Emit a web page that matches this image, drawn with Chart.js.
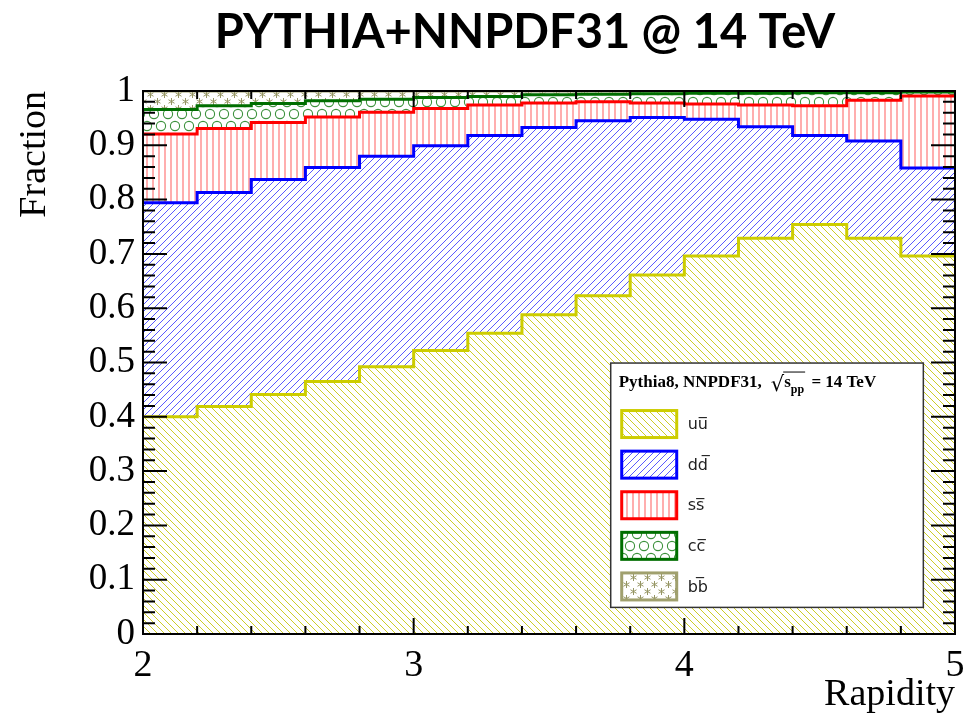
<!DOCTYPE html>
<html><head><meta charset="utf-8">
<script src="https://cdn.jsdelivr.net/npm/chart.js@4/dist/chart.umd.min.js"></script>
<style>html,body{margin:0;padding:0;background:#fff;}#wrap{width:969px;height:716px;position:relative;}</style>
</head><body><div id="wrap"><canvas id="c" width="969" height="716"></canvas></div>
<script>
// ---------------- data ----------------
const chartTitle = 'PYTHIA+NNPDF31 @ 14 TeV';
const xAxisTitle = 'Rapidity';
const yAxisTitle = 'Fraction';
const binEdges = [2.0,2.2,2.4,2.6,2.8,3.0,3.2,3.4,3.6,3.8,4.0,4.2,4.4,4.6,4.8,5.0];
const seriesLabels = ['uu\u0305','dd\u0305','ss\u0305','cc\u0305','bb\u0305'];
const uuFrac = [0.400,0.419,0.441,0.465,0.492,0.522,0.554,0.588,0.623,0.661,0.696,0.729,0.754,0.729,0.696];
const ddFrac = [0.394,0.394,0.396,0.394,0.388,0.377,0.364,0.345,0.322,0.290,0.252,0.205,0.164,0.179,0.162];
const ssFrac = [0.127,0.118,0.105,0.093,0.081,0.069,0.056,0.045,0.035,0.027,0.028,0.040,0.055,0.075,0.133];
const ccFrac = [0.045,0.042,0.035,0.030,0.024,0.020,0.016,0.015,0.014,0.017,0.020,0.022,0.024,0.014,0.007];
const bbFrac = [0.034,0.027,0.023,0.018,0.015,0.012,0.010,0.007,0.006,0.005,0.004,0.004,0.003,0.003,0.002];

// ---------------- patterns ----------------
function tile(w,h,draw){const c=document.createElement('canvas');c.width=w;c.height=h;const g=c.getContext('2d');g.fillStyle='#fff';g.fillRect(0,0,w,h);draw(g,w,h);return document.getElementById('c').getContext('2d').createPattern(c,'repeat');}
const patUU = tile(7,7,(g,s)=>{g.strokeStyle='rgb(205,205,40)';g.lineWidth=1;g.beginPath();for(let k=-1;k<=1;k++){g.moveTo(k*s,0);g.lineTo(k*s+s,s);}g.stroke();});
const patDD = tile(7,7,(g,s)=>{g.strokeStyle='rgb(90,90,255)';g.lineWidth=1;g.beginPath();for(let k=-1;k<=1;k++){g.moveTo(k*s,s);g.lineTo(k*s+s,0);}g.stroke();});
const patSS = tile(6,6,(g)=>{g.strokeStyle='rgb(255,120,120)';g.lineWidth=1.2;g.beginPath();g.moveTo(3,0);g.lineTo(3,6);g.stroke();});
const patCC = tile(14,24,(g)=>{g.strokeStyle='rgb(60,145,60)';g.lineWidth=1.1;[[7,6],[0,18],[14,18]].forEach(([x,y])=>{g.beginPath();g.arc(x,y,4.6,0,Math.PI*2);g.stroke();});});
const patBB = tile(14,14,(g)=>{g.strokeStyle='rgb(150,150,100)';g.lineWidth=1;[[3.5,3.5],[10.5,10.5]].forEach(([x,y])=>{g.beginPath();for(let a=0;a<3;a++){const t=a*Math.PI/3+Math.PI/2;g.moveTo(x-3.5*Math.cos(t),y-3.5*Math.sin(t));g.lineTo(x+3.5*Math.cos(t),y+3.5*Math.sin(t));}g.stroke();});});

function pts(vals){return binEdges.map((x,i)=>({x:x,y:vals[Math.min(i,vals.length-1)]}));}
const styles = [
 {bg:patUU,bc:'rgb(205,205,0)'},
 {bg:patDD,bc:'rgb(0,0,255)'},
 {bg:patSS,bc:'rgb(255,0,0)'},
 {bg:patCC,bc:'rgb(0,110,0)'},
 {bg:patBB,bc:'rgb(160,160,110)'}
];
const allVals=[uuFrac,ddFrac,ssFrac,ccFrac,bbFrac];
const datasets = allVals.map((v,i)=>({
  label: seriesLabels[i], data: pts(v), stepped: 'before',
  backgroundColor: styles[i].bg, borderColor: styles[i].bc, borderWidth: 3,
  pointRadius: 0, fill: i===0?'origin':'-1', tension:0
}));

// ---------------- plugins ----------------
const framePlugin = {
  id:'frame',
  afterDatasetsDraw(chart){
    const {ctx,chartArea:a,scales:{x,y}}=chart;
    ctx.save();ctx.strokeStyle='#000';ctx.lineWidth=2;ctx.beginPath();
    for(let i=0;i<=50;i++){const p=y.getPixelForValue(i*0.02);const L=(i%5===0)?24:12;
      ctx.moveTo(a.left,p);ctx.lineTo(a.left+L,p);ctx.moveTo(a.right,p);ctx.lineTo(a.right-L,p);}
    for(let i=0;i<=15;i++){const p=x.getPixelForValue(2+i*0.2);const L=(i%5===0)?16:8;
      ctx.moveTo(p,a.bottom);ctx.lineTo(p,a.bottom-L);ctx.moveTo(p,a.top);ctx.lineTo(p,a.top+L);}
    ctx.stroke();
    ctx.strokeRect(a.left,a.top,a.right-a.left,a.bottom-a.top);
    ctx.restore();
  }
};
const legendPlugin = {
  id:'rootLegend',
  afterDraw(chart){
    const {ctx,chartArea:a}=chart;const w=a.right-a.left,h=a.bottom-a.top;
    const L=a.left+0.576*w,R=a.left+0.961*w,T=a.top+0.501*h,B=a.top+0.951*h;
    ctx.save();
    ctx.fillStyle='#fff';ctx.fillRect(L,T,R-L,B-T);
    ctx.strokeStyle='#333';ctx.lineWidth=1.5;ctx.strokeRect(L,T,R-L,B-T);
    // header
    ctx.fillStyle='#000';ctx.textBaseline='alphabetic';ctx.textAlign='left';
    let cx=L+8;const by=T+24;
    ctx.font='bold 17px "Liberation Serif"';
    const h1='Pythia8, NNPDF31,';ctx.fillText(h1,cx,by);cx+=ctx.measureText(h1).width+9;
    ctx.font='21px "DejaVu Sans"';ctx.fillText('\u221A',cx,by+4);const rw=ctx.measureText('\u221A').width;const ox=cx+rw-1;cx+=rw;
    ctx.font='bold 17px "Liberation Serif"';ctx.fillText('s',cx,by);cx+=ctx.measureText('s').width;
    ctx.font='bold 12px "Liberation Serif"';ctx.fillText('pp',cx,by+6);cx+=ctx.measureText('pp').width+1;
    ctx.strokeStyle='#000';ctx.lineWidth=1;ctx.beginPath();ctx.moveTo(ox,by-15);ctx.lineTo(cx,by-15);ctx.stroke();
    ctx.font='bold 17px "Liberation Serif"';ctx.fillText(' = 14 TeV',cx+2,by);
    // entries
    chart.data.datasets.forEach((ds,i)=>{
      const cy=T+61+i*40.6;const sx=L+11,sw=55,sh=27;
      ctx.fillStyle=ds.backgroundColor;ctx.fillRect(sx,cy-sh/2,sw,sh);
      ctx.strokeStyle=ds.borderColor;ctx.lineWidth=3;ctx.strokeRect(sx,cy-sh/2,sw,sh);
      ctx.fillStyle='#222';ctx.font='16px "DejaVu Sans"';ctx.textBaseline='middle';
      ctx.fillText(ds.label,L+77,cy+1);
    });
    ctx.restore();
  }
};
const titlePlugin = {
  id:'bigTitle',
  afterDraw(chart){const ctx=chart.ctx;ctx.save();ctx.fillStyle='#000';ctx.font='bold 47px Lato';ctx.textAlign='center';ctx.textBaseline='alphabetic';ctx.fillText(chartTitle,525,48);ctx.restore();}
};

new Chart(document.getElementById('c'),{
  type:'line',
  data:{datasets},
  options:{
    responsive:false,animation:false,devicePixelRatio:1,
    layout:{padding:{left:0,right:14,top:91,bottom:0}},
    plugins:{legend:{display:false},title:{display:false},tooltip:{enabled:false},filler:{propagate:false}},
    scales:{
      x:{type:'linear',min:2,max:5,
        ticks:{stepSize:1,font:{family:'"Liberation Serif"',size:38},color:'#000',padding:9,maxRotation:0},
        grid:{display:false,drawTicks:false},border:{display:false},
        title:{display:true,text:xAxisTitle,align:'end',font:{family:'"Liberation Serif"',size:38},color:'#000',padding:{top:0,bottom:-2}},
        afterFit(s){s.height=82;s.paddingRight=0;s.paddingLeft=0;}
      },
      y:{type:'linear',min:0,max:1,stacked:true,
        ticks:{stepSize:0.1,font:{family:'"Liberation Serif"',size:37},color:'#000',padding:8,
          callback:(v)=>String(+Number(v).toFixed(1))},
        grid:{display:false,drawTicks:false},border:{display:false},
        title:{display:true,text:yAxisTitle,align:'end',font:{family:'"Liberation Serif"',size:38},color:'#000',padding:{top:12,bottom:0}},
        afterFit(s){s.width=143;s.paddingTop=0;s.paddingBottom=0;}
      }
    }
  },
  plugins:[framePlugin,legendPlugin,titlePlugin]
});
</script></body></html>
